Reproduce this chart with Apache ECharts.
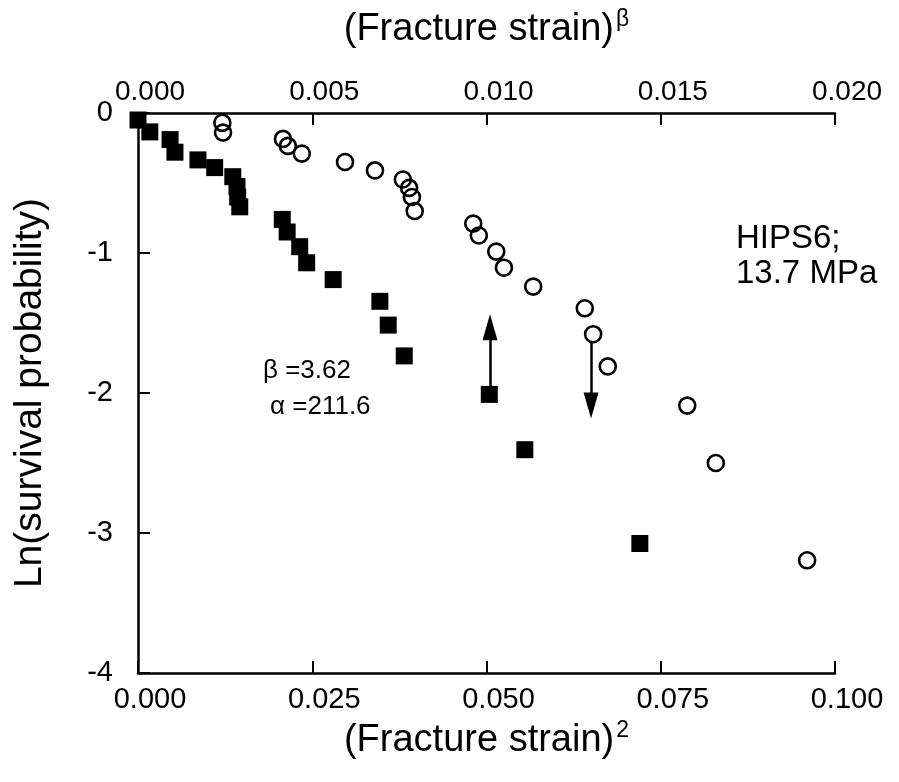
<!DOCTYPE html>
<html>
<head>
<meta charset="utf-8">
<script src="https://cdn.jsdelivr.net/npm/echarts@6/dist/echarts.min.js"></script>
<style>
  html, body { margin: 0; padding: 0; background: #ffffff; }
  #chart { width: 899px; height: 782px; }
</style>
</head>
<body>
<div id="chart"></div>
<script>
// Filled squares: x = (fracture strain)^2, y = ln(survival probability)
const squareX = [0.0000, 0.0017, 0.0046, 0.0053, 0.0086, 0.0110, 0.0136, 0.0142, 0.0143, 0.0146,
                 0.0207, 0.0214, 0.0232, 0.0242, 0.0280, 0.0347, 0.0359, 0.0382, 0.0504, 0.0555, 0.0720];
const squareY = [-0.05, -0.135, -0.19, -0.28, -0.335, -0.39, -0.455, -0.525, -0.60, -0.67,
                 -0.76, -0.85, -0.955, -1.07, -1.19, -1.345, -1.515, -1.735, -2.01, -2.405, -3.075];

// Open circles: x = (fracture strain)^beta, y = ln(survival probability)
const circleX = [0.00242, 0.00244, 0.00416, 0.00430, 0.00470, 0.00594, 0.00680, 0.00760, 0.00778, 0.00786,
                 0.00794, 0.00962, 0.00978, 0.01028, 0.01050, 0.01134, 0.01282, 0.01306, 0.01348, 0.01576,
                 0.01658, 0.01920];
const circleY = [-0.07, -0.14, -0.185, -0.235, -0.29, -0.35, -0.41, -0.475, -0.535, -0.60,
                 -0.70, -0.79, -0.875, -0.99, -1.105, -1.24, -1.395, -1.58, -1.81, -2.09,
                 -2.50, -3.195];

// Axis tick values
const bottomTicks = [0, 0.025, 0.05, 0.075, 0.1];
const topTicks = [0, 0.005, 0.010, 0.015, 0.020];
const yTicks = [-4, -3, -2, -1, 0];

// Shift arrows: [x, start y, arrow-head y]
const upArrow = [0.0505, -1.95, -1.53];
const downArrow = [0.0130, -1.64, -2.09];

const FONT = '"Liberation Sans", Arial, Helvetica, sans-serif';
const BLACK = '#000000';

const chart = echarts.init(document.getElementById('chart'), null, { renderer: 'canvas' });

const axisCommon = {
  type: 'value',
  axisLine: { show: true, onZero: false, lineStyle: { color: BLACK, width: 2.5 } },
  axisTick: { show: true, inside: true, length: 12, lineStyle: { color: BLACK, width: 2 } },
  splitLine: { show: false }
};

const fmt3 = v => v.toFixed(3);

// Axis title with a raised exponent
const titleRich = {
  t: { fontFamily: FONT, fontSize: 38, lineHeight: 40, color: BLACK },
  s: { fontFamily: FONT, fontSize: 23, lineHeight: 23, color: BLACK, verticalAlign: 'bottom', padding: [0, 0, 19, 2] }
};

chart.setOption({
  animation: false,
  backgroundColor: '#ffffff',
  grid: { left: 138, top: 113, right: 64, bottom: 109, containLabel: false },
  xAxis: [
    Object.assign({}, axisCommon, {
      position: 'bottom',
      min: bottomTicks[0], max: bottomTicks[bottomTicks.length - 1], interval: 0.025,
      name: '{t|(Fracture strain)}{s|2}',
      nameLocation: 'middle', nameGap: 48,
      nameTextStyle: { rich: titleRich },
      axisLabel: { formatter: fmt3, color: BLACK, fontFamily: FONT, fontSize: 29, margin: 12, padding: [0, 0, 0, 24] }
    }),
    Object.assign({}, axisCommon, {
      position: 'top',
      min: topTicks[0], max: topTicks[topTicks.length - 1], interval: 0.005,
      name: '{t|(Fracture strain)}{s|β}',
      nameLocation: 'middle', nameGap: 63,
      nameTextStyle: { rich: titleRich },
      axisLabel: { formatter: fmt3, color: BLACK, fontFamily: FONT, fontSize: 28, margin: 7, padding: [0, 0, 0, 24] }
    })
  ],
  yAxis: Object.assign({}, axisCommon, {
    min: yTicks[0], max: yTicks[yTicks.length - 1], interval: 1,
    name: 'Ln(survival probability)',
    nameLocation: 'middle', nameGap: 88, nameRotate: 90,
    nameTextStyle: { color: BLACK, fontFamily: FONT, fontSize: 39 },
    axisLabel: { color: BLACK, fontFamily: FONT, fontSize: 29, margin: 25 }
  }),
  series: [
    {
      type: 'scatter',
      xAxisIndex: 0,
      symbol: 'rect',
      symbolSize: 17,
      itemStyle: { color: BLACK, opacity: 1 },
      data: squareX.map((x, i) => [x, squareY[i]]),
      markLine: {
        silent: true,
        symbol: ['none', 'triangle'],
        symbolSize: [15, 26],
        label: { show: false },
        lineStyle: { color: BLACK, width: 2.5, type: 'solid', opacity: 1 },
        data: [[{ coord: [upArrow[0], upArrow[1]] }, { coord: [upArrow[0], upArrow[2]] }]]
      }
    },
    {
      type: 'scatter',
      xAxisIndex: 1,
      symbol: 'circle',
      symbolSize: 16,
      itemStyle: { color: 'rgba(255,255,255,0)', borderColor: BLACK, borderWidth: 2.6, opacity: 1 },
      data: circleX.map((x, i) => [x, circleY[i]]),
      markLine: {
        silent: true,
        symbol: ['none', 'triangle'],
        symbolSize: [15, 26],
        label: { show: false },
        lineStyle: { color: BLACK, width: 2.5, type: 'solid', opacity: 1 },
        data: [[{ coord: [downArrow[0], downArrow[1]] }, { coord: [downArrow[0], downArrow[2]] }]]
      }
    }
  ],
  graphic: [
    { type: 'text', left: 736, top: 222, style: { text: 'HIPS6;', fill: BLACK, font: '33px ' + FONT } },
    { type: 'text', left: 736, top: 257, style: { text: '13.7 MPa', fill: BLACK, font: '33px ' + FONT } },
    { type: 'text', left: 263, top: 358, style: { text: 'β =3.62', fill: BLACK, font: '26px ' + FONT } },
    { type: 'text', left: 270, top: 394, style: { text: 'α =211.6', fill: BLACK, font: '26px ' + FONT } }
  ]
});
</script>
</body>
</html>
